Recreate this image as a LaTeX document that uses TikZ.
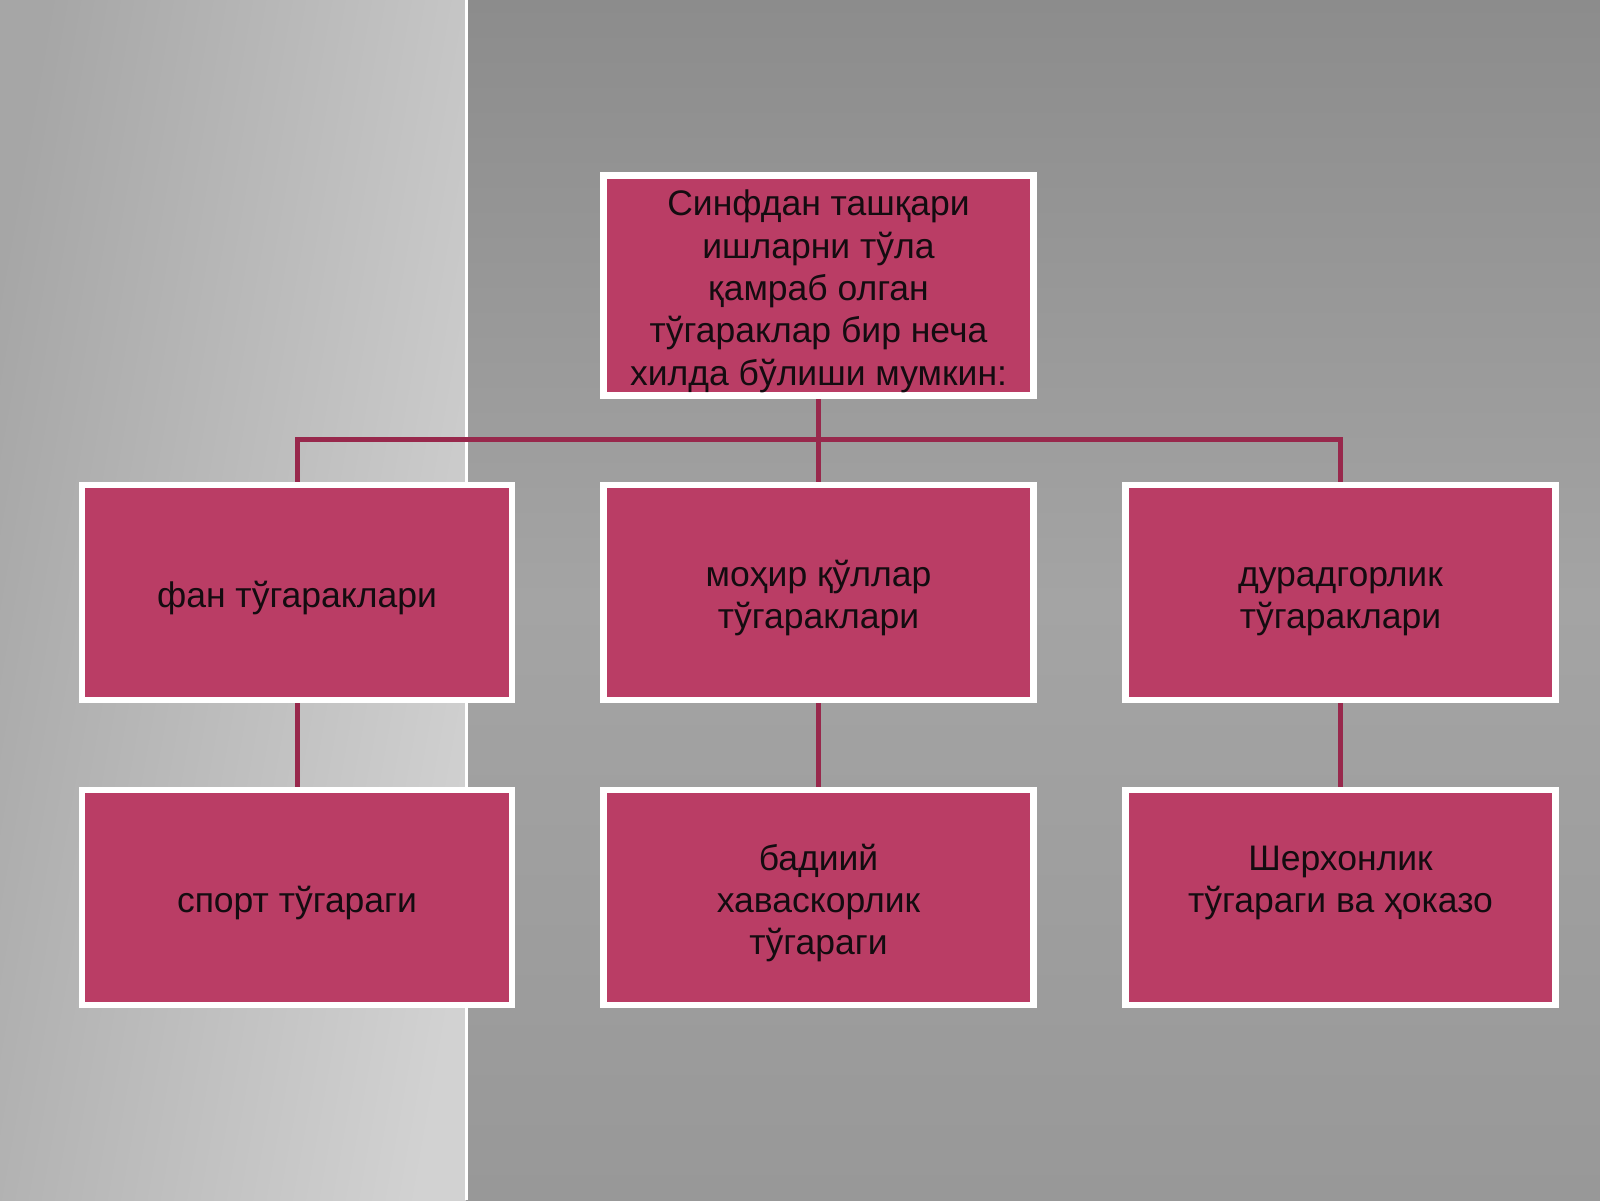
\documentclass[tikz,border=0pt]{standalone}
\usepackage{fontspec}
\setmainfont{Liberation Sans}
\definecolor{boxpink}{RGB}{186,61,101}
\definecolor{linkred}{RGB}{152,40,76}
\definecolor{leftA}{RGB}{166,166,166}
\definecolor{leftB}{RGB}{210,210,210}
\definecolor{rightTop}{RGB}{140,140,140}
\definecolor{rightMid}{RGB}{164,164,164}
\definecolor{rightBot}{RGB}{152,152,152}
\definecolor{textdark}{RGB}{20,12,16}
\newcommand\myTop{\rule{0pt}{40pt}}
\newcommand\myBot{\rule[-10pt]{0pt}{10pt}}
\newcommand\myBotLong{\rule[-52.4pt]{0pt}{52.4pt}}
\pgfdeclarelayer{panels}
\pgfdeclarelayer{links}
\pgfsetlayers{panels,links,main}
\begin{document}
\begin{tikzpicture}[x=1pt,y=-1pt,
  orgbox/.style={rectangle, fill=boxpink, draw=white, line width=6.5pt,
    inner sep=0pt, minimum width=430pt, minimum height=215pt,
    align=center, text=textdark,
    font=\fontsize{35.5}{42.4}\selectfont},
  link/.style={draw=linkred, line width=5pt, line join=miter}]
\useasboundingbox (0,0) rectangle (1600,1200);
% background panels
\begin{pgfonlayer}{panels}
\shade[left color=leftA, right color=leftB, shading angle=80] (0,0) rectangle (466,1200);
\fill[top color=rightTop, bottom color=rightBot, middle color=rightMid] (466,0) rectangle (1600,1200);
\fill[white] (465,0) rectangle (468,1200);
\end{pgfonlayer}
% nodes
\node[orgbox, minimum height=216pt] (top) at (818.5,285.5)
  {\myTop Синфдан ташқари\\ишларни тўла\\қамраб олган\\тўгараклар бир неча\\хилда бўлиши мумкин:\myBot};
\node[orgbox] (fan) at (297,592.5) {\myTop фан тўгараклари\myBot};
\node[orgbox] (mohir) at (818.5,592.5) {\myTop моҳир қўллар\\тўгараклари\myBot};
\node[orgbox] (durad) at (1340.5,592.5) {\myTop дурадгорлик\\тўгараклари\myBot};
\node[orgbox] (sport) at (297,897.5) {\myTop спорт тўгараги\myBot};
\node[orgbox] (badiiy) at (818.5,897.5) {\myTop бадиий\\хаваскорлик\\тўгараги\myBot};
\node[orgbox] (sher) at (1340.5,897.5) {\myTop Шерхонлик\\ тўгараги ва ҳоказо\myBotLong};
\coordinate (bus) at (818.5,439);
% connectors (behind boxes)
\begin{pgfonlayer}{links}
\path[link] (top.south) -- (mohir.north);
\path[link] (fan.north) -- (fan.north |- bus) -- (durad.north |- bus) -- (durad.north);
\path[link] (fan.south) -- (sport.north);
\path[link] (mohir.south) -- (badiiy.north);
\path[link] (durad.south) -- (sher.north);
\end{pgfonlayer}
\end{tikzpicture}
\end{document}
